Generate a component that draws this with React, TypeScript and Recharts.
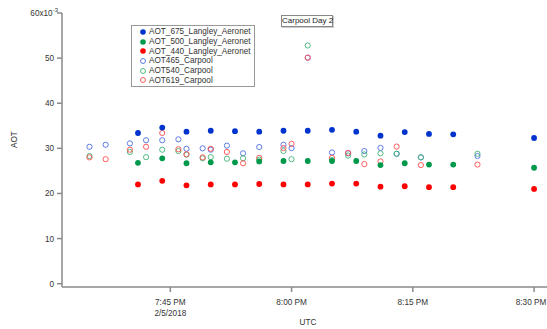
import React from "react";
import { ScatterChart, Scatter, XAxis, YAxis } from "recharts";

// Aeronet (Langley) samples, UTC on 2/5/2018
const aeronetTimes = ["19:41", "19:44", "19:47", "19:50", "19:53", "19:56", "19:59", "20:02", "20:05", "20:08", "20:11", "20:14", "20:17", "20:20", "20:30"];
const aot675 = [33.4, 34.6, 33.7, 33.9, 33.8, 33.7, 33.9, 33.9, 34.1, 33.7, 32.8, 33.6, 33.2, 33.1, 32.3];
const aot500 = [26.8, 27.8, 26.7, 26.9, 26.9, 27.1, 27.2, 27.2, 27.2, 27.2, 26.3, 26.7, 26.4, 26.4, 25.7];
const aot440 = [22.0, 22.8, 21.8, 22.0, 22.0, 22.1, 22.0, 22.0, 22.2, 22.2, 21.5, 21.6, 21.4, 21.4, 21.0];

// Carpool samples
const carpoolTimes = ["19:35", "19:37", "19:40", "19:42", "19:44", "19:46", "19:47", "19:49", "19:50", "19:52", "19:54", "19:56", "19:59", "20:00", "20:02", "20:05", "20:07", "20:09", "20:11", "20:13", "20:16", "20:23"];
const aot465 = [30.35, 30.8, 31.1, 31.8, 31.8, 32.0, 29.9, 30.0, 29.7, 30.6, 28.9, 30.3, 30.8, 30.05, 50.1, 29.1, 28.9, 29.4, 30.1, 28.8, 28.0, 28.3];
const aot540 = [28.3, null, 29.2, 28.05, 29.7, 29.4, 28.6, 27.8, 28.05, 27.7, 27.8, 27.5, 29.4, 27.6, 52.8, 27.4, 28.4, 28.65, 28.9, 28.8, 28.0, 28.8];
const aot619 = [28.0, 27.6, 29.7, 30.35, 33.4, 29.8, 28.7, 28.0, 29.9, 29.2, 26.7, 27.9, 30.05, 31.0, 50.1, 27.9, 29.0, 26.5, 27.1, 30.4, 26.3, 26.4];

const xTicks = ["19:45", "20:00", "20:15", "20:30"];
const yTicks = [0, 10, 20, 30, 40, 50, 60];

const FONT = "'Liberation Sans', Arial, sans-serif";
const TEXT = "#333";
const AXIS = "#8a8a8a";

const toMin = (s: string) => {
  const [h, m] = s.split(":").map(Number);
  return h * 60 + m;
};

const pts = (times: string[], vals: (number | null)[]) =>
  times
    .map((t, i) => ({ t: toMin(t), v: vals[i] }))
    .filter((p) => p.v !== null);

const series = [
  { name: "AOT_675_Langley_Aeronet", color: "#0033cc", filled: true, data: pts(aeronetTimes, aot675) },
  { name: "AOT_500_Langley_Aeronet", color: "#00994c", filled: true, data: pts(aeronetTimes, aot500) },
  { name: "AOT_440_Langley_Aeronet", color: "#ff0000", filled: true, data: pts(aeronetTimes, aot440) },
  { name: "AOT465_Carpool", color: "#4d6fe0", filled: false, data: pts(carpoolTimes, aot465) },
  { name: "AOT540_Carpool", color: "#3fb374", filled: false, data: pts(carpoolTimes, aot540) },
  { name: "AOT619_Carpool", color: "#ff4d4d", filled: false, data: pts(carpoolTimes, aot619) },
];

const fmtTime = (v: number) => {
  const h = Math.floor(v / 60);
  const m = v % 60;
  return `${h > 12 ? h - 12 : h}:${String(m).padStart(2, "0")} PM`;
};

const YTick = (props: any) => {
  const { x, y, payload } = props;
  if (payload.value === 60) {
    return (
      <text x={x + 3} y={y} dy={3} textAnchor="end" fontSize={8.2} fill={TEXT} fontFamily={FONT}>
        60x10<tspan dy={-4} fontSize={6}>-3</tspan>
      </text>
    );
  }
  return (
    <text x={x - 1} y={y} dy={3} textAnchor="end" fontSize={8.2} fill={TEXT} fontFamily={FONT}>
      {payload.value}
    </text>
  );
};

const XTick = (props: any) => {
  const { x, y, payload } = props;
  return (
    <text x={x} y={y} dy={11} textAnchor="middle" fontSize={8.2} fill={TEXT} fontFamily={FONT}>
      <tspan x={x}>{fmtTime(payload.value)}</tspan>
      {payload.value === toMin("19:45") && (
        <tspan x={x} dy={10.5}>2/5/2018</tspan>
      )}
    </text>
  );
};

const dot = (color: string, filled: boolean) => (props: any) => {
  const { cx, cy } = props;
  return filled ? (
    <circle cx={cx} cy={cy} r={2.9} fill={color} />
  ) : (
    <circle cx={cx} cy={cy} r={2.6} fill="none" stroke={color} strokeWidth={0.9} />
  );
};

const LegendBox = () => (
  <div
    style={{
      position: "absolute",
      left: 131,
      top: 25,
      boxSizing: "border-box",
      border: "1px solid #999",
      background: "#fff",
      padding: "1px 0 0 6px",
      width: 124,
      height: 62,
      fontFamily: FONT,
      fontSize: 8.2,
      color: TEXT,
    }}
  >
    {series.map((s) => (
      <div key={s.name} style={{ display: "flex", alignItems: "center", height: 9.7, whiteSpace: "nowrap" }}>
        <svg width={10} height={8} style={{ marginRight: 1 }}>
          {s.filled ? (
            <circle cx={5} cy={4} r={2.8} fill={s.color} />
          ) : (
            <circle cx={5} cy={4} r={2.5} fill="none" stroke={s.color} strokeWidth={0.9} />
          )}
        </svg>
        <span>{s.name}</span>
      </div>
    ))}
  </div>
);

export default function App() {
  const order = [3, 4, 5, 0, 1, 2];
  return (
    <div style={{ position: "absolute", left: 0, top: 0, width: 547, height: 329, background: "#fff" }}>
      <ScatterChart width={547} height={329} margin={{ top: 13, right: 0, bottom: 0, left: 0 }}>
        <XAxis
          type="number"
          dataKey="t"
          domain={[1171.6, 1231.6]}
          ticks={xTicks.map(toMin)}
          tick={<XTick />}
          tickSize={5}
          height={42}
          stroke={AXIS}
          strokeWidth={1.5}
          allowDataOverflow
          label={{ value: "UTC", position: "insideBottom", offset: 4, dx: 3.5, fontSize: 8.2, fill: TEXT, fontFamily: FONT }}
        />
        <YAxis
          type="number"
          dataKey="v"
          domain={[-0.73, 60]}
          ticks={yTicks}
          tick={<YTick />}
          tickSize={5}
          width={62}
          stroke={AXIS}
          strokeWidth={1.5}
          allowDataOverflow
          label={{ value: "AOT", angle: -90, position: "insideLeft", offset: 14, dy: -2, fontSize: 8.2, fill: TEXT, fontFamily: FONT }}
        />
        {order.map((i) => {
          const s = series[i];
          return (
            <Scatter
              key={s.name}
              name={s.name}
              data={s.data}
              fill={s.color}
              shape={dot(s.color, s.filled)}
              isAnimationActive={false}
            />
          );
        })}
      </ScatterChart>
      <LegendBox />
      <div
        style={{
          position: "absolute",
          left: 281,
          top: 15,
          width: 50,
          height: 10,
          border: "1px solid #888",
          boxShadow: "1px 1px 0 #ccc",
          background: "#fff",
          fontFamily: FONT,
          fontSize: 8,
          color: "#222",
          lineHeight: "10px",
          textAlign: "center",
          whiteSpace: "nowrap",
        }}
      >
        Carpool Day 2
      </div>
    </div>
  );
}
